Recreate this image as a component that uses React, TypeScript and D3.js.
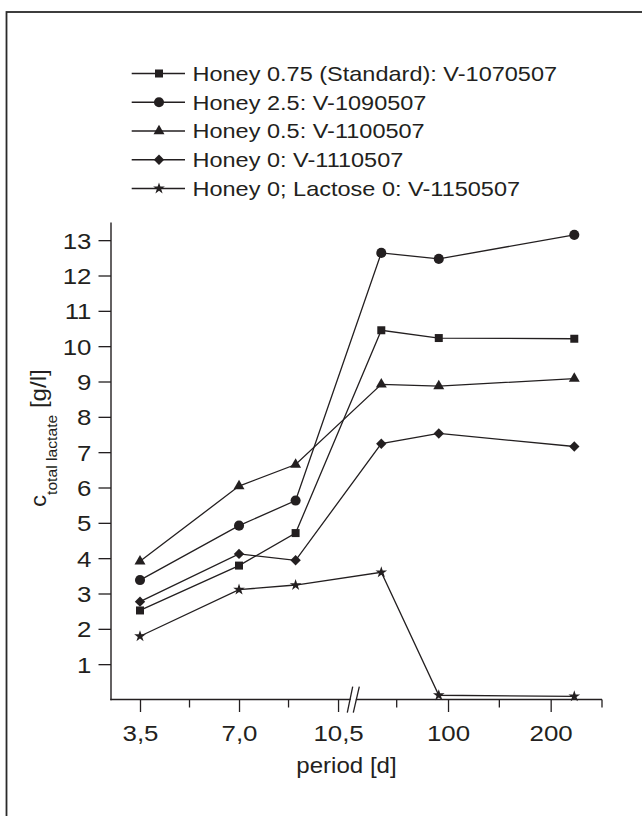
import { useEffect, useRef } from "react";
import * as d3 from "d3";

// period [d] values (x) and lactate values per run
const periods = [3.5, 7.0, 9.0, 35, 91, 223];
const honey075 = [2.52, 3.79, 4.71, 10.45, 10.23, 10.21];
const honey25 = [3.38, 4.92, 5.63, 12.64, 12.47, 13.15];
const honey05 = [3.91, 6.04, 6.65, 8.92, 8.87, 9.08];
const honey0 = [2.77, 4.12, 3.94, 7.24, 7.53, 7.16];
const lactose0 = [1.79, 3.11, 3.24, 3.6, 0.12, 0.09];

const seriesNames = [
  "Honey 0.75 (Standard): V-1070507",
  "Honey 2.5: V-1090507",
  "Honey 0.5: V-1100507",
  "Honey 0: V-1110507",
  "Honey 0; Lactose 0: V-1150507",
];

const xMajorTicks = [3.5, 7.0, 10.5, 100, 200];
const xMinorTicks = [5.25, 8.75, 50, 150, 250];
const yTicks = [1, 2, 3, 4, 5, 6, 7, 8, 9, 10, 11, 12, 13];

const INK = "#231f20";
const FONT = "'Liberation Sans', Arial, sans-serif";
const STRETCH = 1.12;
const TICK_STRETCH = 1.15;

const App = () => {
  const svgRef = useRef<SVGSVGElement | null>(null);

  useEffect(() => {
    drawChart();
  }, []);

  const drawChart = () => {
    const svg = d3.select(svgRef.current);
    svg.selectAll("*").remove();

    // frame round the figure
    svg
      .append("rect")
      .attr("x", 6.5)
      .attr("y", 12)
      .attr("width", 700)
      .attr("height", 900)
      .attr("fill", "white")
      .attr("stroke", "#2a2a2a")
      .attr("stroke-width", 1.8);

    // broken x axis: linear part, then a compressed part after the break
    const x = d3
      .scaleLinear()
      .domain([2.475, 11.17, 11.33, 250])
      .range([111, 357, 357, 602]);
    const y = d3.scaleLinear().domain([0, 13.5]).range([699.5, 222.5]);

    const series = [
      { name: seriesNames[0], values: honey075, symbol: d3.symbolSquare, size: 64, rot: 0 },
      { name: seriesNames[1], values: honey25, symbol: d3.symbolCircle, size: 80, rot: 0 },
      { name: seriesNames[2], values: honey05, symbol: d3.symbolTriangle, size: 52, rot: 0 },
      { name: seriesNames[3], values: honey0, symbol: d3.symbolSquare, size: 54, rot: 45 },
      { name: seriesNames[4], values: lactose0, symbol: d3.symbolStar, size: 42, rot: 0 },
    ];

    // axes
    const yAxis = d3
      .axisLeft(y)
      .tickValues(yTicks)
      .tickSize(12.5)
      .tickFormat((d: any) => String(d));
    const gy = svg.append("g").attr("transform", "translate(111,0)").call(yAxis);
    gy.select(".domain").remove();
    gy.selectAll("line").attr("stroke", INK).attr("stroke-width", 1.3);
    gy.selectAll("text")
      .attr("x", null)
      .attr("dy", null)
      .attr("transform", `translate(-19.5,8) scale(${TICK_STRETCH},1)`)
      .attr("font-size", 22.5)
      .attr("font-family", FONT)
      .attr("fill", INK);

    const fmt = (d: number) => (d < 50 ? d.toFixed(1).replace(".", ",") : String(d));
    const xAxis = d3
      .axisBottom(x)
      .tickValues(xMajorTicks)
      .tickSize(12.5)
      .tickFormat((d: any) => fmt(d));
    const gx = svg.append("g").attr("transform", "translate(0,699.5)").call(xAxis);
    gx.select(".domain").remove();
    gx.selectAll("line").attr("stroke", INK).attr("stroke-width", 1.3);
    gx.selectAll("text")
      .attr("y", null)
      .attr("dy", null)
      .attr("transform", `translate(0,41) scale(${TICK_STRETCH},1)`)
      .attr("font-size", 22.5)
      .attr("font-family", FONT)
      .attr("fill", INK);

    svg
      .append("g")
      .selectAll("line")
      .data(xMinorTicks)
      .join("line")
      .attr("x1", (d) => x(d))
      .attr("x2", (d) => x(d))
      .attr("y1", 699.5)
      .attr("y2", 707.5)
      .attr("stroke", INK)
      .attr("stroke-width", 1.3);

    // axis lines
    svg
      .append("line")
      .attr("x1", 111)
      .attr("x2", 111)
      .attr("y1", y(13.5))
      .attr("y2", 700.2)
      .attr("stroke", INK)
      .attr("stroke-width", 1.4);
    svg
      .append("line")
      .attr("x1", 110.3)
      .attr("x2", 602)
      .attr("y1", 699.5)
      .attr("y2", 699.5)
      .attr("stroke", INK)
      .attr("stroke-width", 1.4);

    // axis break marks
    svg
      .append("polygon")
      .attr("points", "348.6,706 353.6,706 357.9,693 352.9,693")
      .attr("fill", "white");
    [
      [347.3, 712.7, 352.7, 686.7],
      [353.3, 712.7, 359.3, 686.7],
    ].forEach(([x1, y1, x2, y2]) =>
      svg
        .append("line")
        .attr("x1", x1)
        .attr("y1", y1)
        .attr("x2", x2)
        .attr("y2", y2)
        .attr("stroke", INK)
        .attr("stroke-width", 1.3)
    );

    // axis titles
    const yTitle = svg
      .append("text")
      .attr("transform", `translate(45.5,507) rotate(-90) scale(${STRETCH},1)`)
      .attr("font-family", FONT)
      .attr("fill", INK)
      .attr("font-size", 21.5);
    yTitle.append("tspan").text("c");
    yTitle.append("tspan").attr("font-size", 14).attr("dy", 11).text("total lactate");
    yTitle.append("tspan").attr("dy", -11).text(" [g/l]");

    svg
      .append("text")
      .attr("transform", `translate(346.5,773) scale(${STRETCH},1)`)
      .attr("text-anchor", "middle")
      .attr("font-family", FONT)
      .attr("font-size", 21.5)
      .attr("fill", INK)
      .text("period [d]");

    // data lines and markers
    const line = d3
      .line<number>()
      .x((d, i) => x(periods[i]))
      .y((d) => y(d));

    series.forEach((s) => {
      svg
        .append("path")
        .attr("d", line(s.values))
        .attr("fill", "none")
        .attr("stroke", INK)
        .attr("stroke-width", 1.3);
      svg
        .append("g")
        .selectAll("path")
        .data(s.values)
        .join("path")
        .attr("d", d3.symbol(s.symbol, s.size)())
        .attr(
          "transform",
          (d, i) => `translate(${x(periods[i])},${y(d)}) rotate(${s.rot})`
        )
        .attr("fill", INK);
    });

    // legend
    const legend = svg.append("g");
    series.forEach((s, i) => {
      const ly = 73.5 + i * 28.75;
      legend
        .append("line")
        .attr("x1", 131.7)
        .attr("x2", 185)
        .attr("y1", ly)
        .attr("y2", ly)
        .attr("stroke", INK)
        .attr("stroke-width", 1.3);
      legend
        .append("path")
        .attr("d", d3.symbol(s.symbol, s.size)())
        .attr("transform", `translate(159,${ly}) rotate(${s.rot})`)
        .attr("fill", INK);
      legend
        .append("text")
        .attr("transform", `translate(192.5,${ly + 7.4}) scale(${STRETCH},1)`)
        .attr("font-family", FONT)
        .attr("font-size", 21)
        .attr("fill", INK)
        .text(s.name);
    });
  };

  return (
    <svg
      ref={svgRef}
      width={642}
      height={816}
      style={{ position: "absolute", left: 0, top: 0, background: "white" }}
    ></svg>
  );
};

export default App;
